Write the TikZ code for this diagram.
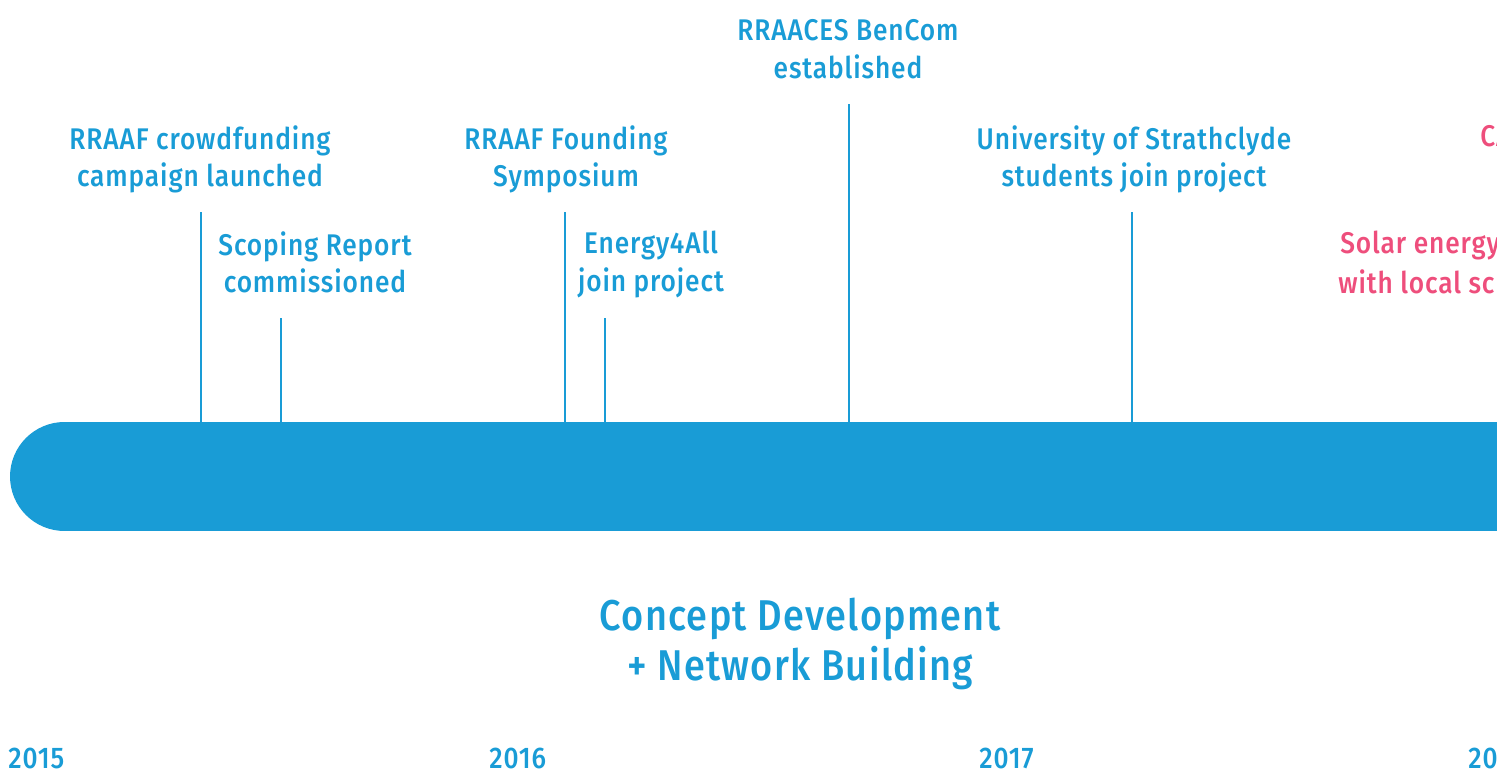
\documentclass[tikz,border=0pt]{standalone}
\usepackage{fontspec}
\setmainfont{Fira Sans}[FakeStretch=0.88,LetterSpace=3,BoldFont={Fira Sans Medium}]
\usetikzlibrary{positioning}
\definecolor{barblue}{HTML}{199CD6}
\definecolor{eventpink}{HTML}{EE4E7C}

\begin{document}
\begin{tikzpicture}[x=0.02cm,y=-0.02cm,
    event/.style={text=barblue,font=\bfseries\fontsize{17}{21.5}\selectfont,align=center,inner sep=0pt,anchor=north},
    later/.style={event,text=eventpink,anchor=north west},
    year/.style={text=barblue,font=\bfseries\fontsize{17}{20}\selectfont,inner sep=0pt,text depth=0pt,anchor=north west},
    tick/.style={draw=barblue,line width=1.4pt}]
        \useasboundingbox (0,0) rectangle (1497,771);
        \clip (0,0) rectangle (1497,771);
        % the bar
        \coordinate (barleft) at (64.5,476.5);
        \coordinate (bartop) at (0,422);
        \draw[barblue,line width=2.18cm,line cap=round] (barleft)--(1700,476.5);
        % events
        \node[event] (crowd) at (200,125) {RRAAF crowdfunding\\campaign launched};
        \node[event] (scoping) at (315,231) {Scoping Report\\commissioned};
        \node[event] (founding) at (566,125) {RRAAF Founding\\Symposium};
        \node[event] (energy) at (651,231) {Energy4All\\join project};
        \node[event] (bencom) at (848,19) {RRAACES BenCom\\established};
        \node[event] (strath) at (1134,125) {University of Strathclyde\\students join project};
        \node[later] (ca) at (1480,125) {CA};
        \node[later] (solar) at (1340,231) {Solar energy};
        \node[later] (local) at (1338,269) {with local sc};
        % ticks
        \coordinate (t1) at (201,212);
        \coordinate (t2) at (281,318);
        \coordinate (t3) at (565,212);
        \coordinate (t4) at (605,318);
        \coordinate (t5) at (849,104);
        \coordinate (t6) at (1132,212);
        \foreach \t in {t1,t2,t3,t4,t5,t6}
            \draw[tick] (\t)--(\t |- bartop);
        % phase
        \node[text=barblue,font=\bfseries\fontsize{24.5}{28.5}\selectfont,align=center,inner sep=0pt,anchor=north] (phase) at (800,598) {Concept Development\\+ Network Building};
        % years
        \node[year] (y15) at (8,748) {2015};
        \node[year] (y16) at (489,748) {2016};
        \node[year] (y17) at (979,748) {2017};
        \node[year] (y18) at (1468,748) {20};
\end{tikzpicture}
\end{document}
